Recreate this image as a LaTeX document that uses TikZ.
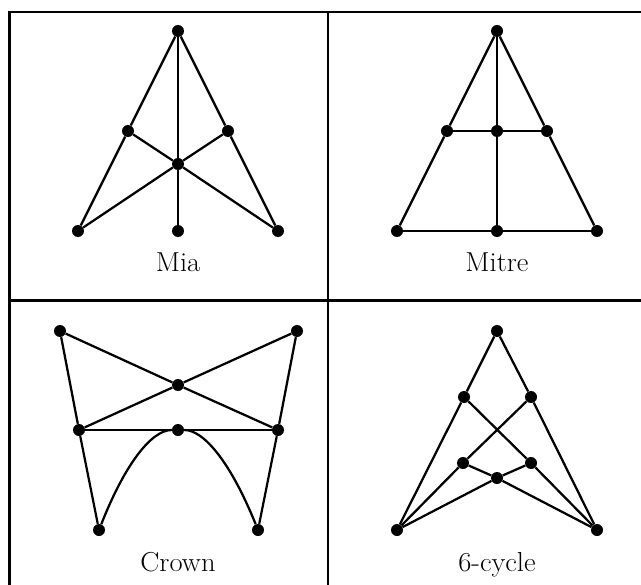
\documentclass[tikz,border=0pt]{standalone}
\usepackage{tikz}
\newcommand{\widetitle}[1]{\scalebox{1.04}[1]{\fontsize{19.5}{23}\selectfont #1}}
\begin{document}
\begin{tikzpicture}[x=0.025cm, y=-0.025cm,
    dot/.style={circle, fill, inner sep=0pt, minimum size=0.3cm},
    edge/.style={line width=1.6pt},
    rule/.style={line width=2.1pt},
    graphtitle/.style={anchor=base, inner sep=0pt}]
    \useasboundingbox (0,0) rectangle (641,585);

    % draw frame
    \draw [rule] (9.5,585) -- (9.5,12) -- (641,12);
    \draw [rule] (328,12) -- (328,585);
    \draw [rule] (9.5,300.5) -- (641,300.5);

    % Mia
    \foreach \x/\y/\t in {178/31/t, 128/131/l, 228/131/r, 178/164/c, 78/231/bl, 178/231/b, 278/231/br}
        \node [dot] (a\t) at (\x, \y) {};
    \foreach \i/\j in {t/l, t/r, t/c, c/b, l/bl, r/br, l/c, c/br, r/c, c/bl}
        \draw [edge] (a\i) -- (a\j);
    \node [graphtitle] (atitle) at (178,271) {\widetitle{Mia}};

    % Mitre
    \foreach \x/\y/\t in {497/31/t, 447/131/l, 497/131/m, 547/131/r, 397/231/bl, 497/231/b, 597/231/br}
        \node [dot] (b\t) at (\x, \y) {};
    \foreach \i/\j in {t/l, l/bl, t/r, r/br, t/m, m/b, l/m, m/r, bl/b, b/br}
        \draw [edge] (b\i) -- (b\j);
    \node [graphtitle] (btitle) at (497,271) {\widetitle{Mitre}};

    % Crown
    \foreach \x/\y/\t in {60/331/tl, 297/331/tr, 178/385/x, 79/430/ml, 178/430/m, 278/430/mr, 99/530/bl, 258/530/br}
        \node [dot] (c\t) at (\x, \y) {};
    \foreach \i/\j in {tl/x, x/mr, tr/x, x/ml, ml/m, m/mr, tl/ml, ml/bl, tr/mr, mr/br}
        \draw [edge] (c\i) -- (c\j);
    \draw [edge] (cbl) .. controls (125.3,463.3) and (151.7,430) .. (cm)
        .. controls (204.3,430) and (231,463.3) .. (cbr);
    \node [graphtitle] (ctitle) at (178,571) {\widetitle{Crown}};

    % 6-cycle
    \foreach \x/\y/\t in {497/331/t, 464/397/ul, 531/397/ur, 463/463/ll, 531/463/lr, 497/478/b, 397/530/bl, 597/530/br}
        \node [dot] (d\t) at (\x, \y) {};
    \foreach \i/\j in {t/ul, t/ur, ul/bl, ur/br, ul/lr, ur/ll, ll/bl, lr/br, ll/b, lr/b, b/bl, b/br}
        \draw [edge] (d\i) -- (d\j);
    \node [graphtitle] (dtitle) at (497,571) {\widetitle{6-cycle}};

\end{tikzpicture}
\end{document}
